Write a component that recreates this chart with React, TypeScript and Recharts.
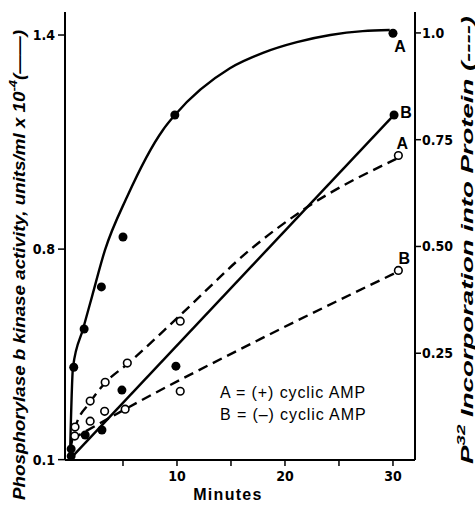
import React from 'react';
import { ComposedChart, Line, Scatter, XAxis, YAxis } from 'recharts';

// ---- axis ticks ----
const minutesTicks = [5, 10, 15, 20, 25, 30];
const minutesTickLabels = ['', '10', '', '20', '', '30'];
const kinaseTicks = [0.21, 0.8, 1.4];
const kinaseTickLabels = ['0.1', '0.8', '1.4'];
const p32Ticks = [0.25, 0.5, 0.75, 1.0];
const p32TickLabels = ['0.25', '0.50', '0.75', '1.0'];

// ---- measured points: kinase activity (filled circles, left axis) ----
const kinaseA_min = [0.2, 0.44, 1.4, 3.0, 5.0, 9.8, 30.0];
const kinaseA_val = [0.24, 0.469, 0.576, 0.694, 0.834, 1.176, 1.405];
const kinaseB_min = [0.2, 1.5, 3.05, 4.9, 9.9, 30.1];
const kinaseB_val = [0.22, 0.279, 0.293, 0.405, 0.472, 1.176];

// ---- measured points: P32 incorporation (open circles, right axis) ----
const p32A_min = [0.56, 1.96, 3.35, 5.4, 10.3, 30.5];
const p32A_val = [0.077, 0.138, 0.182, 0.227, 0.325, 0.713];
const p32B_min = [0.53, 1.96, 3.3, 5.2, 10.3, 30.5];
const p32B_val = [0.056, 0.091, 0.114, 0.119, 0.161, 0.444];

// ---- drawn curves ----
const curveKA_min = [0.09, 0.37, 1.3, 2.13, 3.33, 5.37, 8.7, 9.81, 14.9, 17.96, 21.1, 24.2, 27.2, 29.7];
const curveKA_val = [0.214, 0.469, 0.576, 0.667, 0.797, 0.946, 1.134, 1.176, 1.307, 1.35, 1.38, 1.4, 1.411, 1.414];
const curveKB_min = [0.2, 30.1];
const curveKB_val = [0.215, 1.176];
const curvePA_min = [0.2, 0.56, 1.94, 3.4, 5.37, 10.3, 16.8, 22.0, 30.3];
const curvePA_val = [0.035, 0.075, 0.135, 0.182, 0.224, 0.339, 0.493, 0.591, 0.705];
const curvePB_min = [0.28, 5.2, 17.7, 30.3];
const curvePB_val = [0.049, 0.119, 0.283, 0.439];

const legendLines = ['A = (+) cyclic AMP', 'B = (\u2013) cyclic AMP'];

const pts = (xs: number[], ys: number[]) => xs.map((x, i) => ({ x, y: ys[i] }));

const X_DOMAIN: [number, number] = [-0.37, 32.04];
const LEFT_DOMAIN: [number, number] = [0.209, 1.4645];
const RIGHT_DOMAIN: [number, number] = [0, 1.049];

const tickFont = { fill: '#000', fontSize: 14, fontWeight: 'bold', fontFamily: 'DejaVu Sans Condensed' };
const letterFont = { fontSize: 16, fontWeight: 'bold', fontFamily: 'Liberation Sans, Arial' };

const makeShape = (filled: boolean, letter: string, lastX: number, dx: number, dy: number) => (props: any) => {
  const { cx, cy, payload } = props;
  return (
    <g>
      <circle
        cx={cx}
        cy={cy}
        r={filled ? 4.5 : 3.8}
        fill={filled ? '#000' : '#fff'}
        stroke="#000"
        strokeWidth={filled ? 0 : 1.6}
      />
      {payload && payload.x === lastX ? (
        <text x={cx + dx} y={cy + dy} textAnchor="middle" dominantBaseline="central" {...letterFont}>
          {letter}
        </text>
      ) : null}
    </g>
  );
};

const fmt = (ticks: number[], labels: string[]) => (v: number) => {
  const i = ticks.findIndex((t) => Math.abs(t - v) < 1e-6);
  return i >= 0 ? labels[i] : '';
};

export default function App() {
  return (
    <div style={{ position: 'absolute', left: 0, top: 0, background: '#fff' }}>
      <ComposedChart width={475} height={505} margin={{ top: 12, right: 0, bottom: 0, left: 0 }}>
        <XAxis
          xAxisId="bottom"
          dataKey="x"
          type="number"
          domain={X_DOMAIN}
          allowDataOverflow
          ticks={minutesTicks}
          tickFormatter={fmt(minutesTicks, minutesTickLabels)}
          height={45}
          tickSize={6}
          tickMargin={5}
          tick={tickFont}
          tickLine={{ stroke: '#000', strokeWidth: 1.5 }}
          axisLine={{ stroke: '#000', strokeWidth: 2 }}
        />
        <XAxis
          xAxisId="top"
          orientation="top"
          dataKey="x"
          type="number"
          domain={X_DOMAIN}
          allowDataOverflow
          height={0}
          tick={false}
          tickLine={false}
          axisLine={{ stroke: '#000', strokeWidth: 2 }}
        />
        <YAxis
          yAxisId="left"
          dataKey="y"
          type="number"
          domain={LEFT_DOMAIN}
          allowDataOverflow
          ticks={kinaseTicks}
          tickFormatter={fmt(kinaseTicks, kinaseTickLabels)}
          width={65}
          tickSize={7}
          tickMargin={3}
          tick={tickFont}
          tickLine={{ stroke: '#000', strokeWidth: 1.5 }}
          axisLine={{ stroke: '#000', strokeWidth: 2 }}
        />
        <YAxis
          yAxisId="right"
          orientation="right"
          dataKey="y"
          type="number"
          domain={RIGHT_DOMAIN}
          allowDataOverflow
          ticks={p32Ticks}
          tickFormatter={fmt(p32Ticks, p32TickLabels)}
          width={60}
          tickSize={6}
          tickMargin={1}
          tick={tickFont}
          tickLine={{ stroke: '#000', strokeWidth: 1.5 }}
          axisLine={{ stroke: '#000', strokeWidth: 2 }}
        />

        <Line xAxisId="bottom" yAxisId="left" data={pts(curveKA_min, curveKA_val)} dataKey="y" type="monotone"
          stroke="#000" strokeWidth={2.4} dot={false} activeDot={false} isAnimationActive={false} />
        <Line xAxisId="bottom" yAxisId="left" data={pts(curveKB_min, curveKB_val)} dataKey="y" type="linear"
          stroke="#000" strokeWidth={2.4} dot={false} activeDot={false} isAnimationActive={false} />
        <Line xAxisId="bottom" yAxisId="right" data={pts(curvePA_min, curvePA_val)} dataKey="y" type="monotone"
          stroke="#000" strokeWidth={2.4} strokeDasharray="10 6" dot={false} activeDot={false} isAnimationActive={false} />
        <Line xAxisId="bottom" yAxisId="right" data={pts(curvePB_min, curvePB_val)} dataKey="y" type="monotone"
          stroke="#000" strokeWidth={2.4} strokeDasharray="10 6" dot={false} activeDot={false} isAnimationActive={false} />

        <Scatter xAxisId="bottom" yAxisId="left" data={pts(kinaseA_min, kinaseA_val)} dataKey="y"
          shape={makeShape(true, 'A', kinaseA_min[kinaseA_min.length - 1], 7, 13)} isAnimationActive={false} />
        <Scatter xAxisId="bottom" yAxisId="left" data={pts(kinaseB_min, kinaseB_val)} dataKey="y"
          shape={makeShape(true, 'B', kinaseB_min[kinaseB_min.length - 1], 12, -2)} isAnimationActive={false} />
        <Scatter xAxisId="bottom" yAxisId="right" data={pts(p32A_min, p32A_val)} dataKey="y"
          shape={makeShape(false, 'A', p32A_min[p32A_min.length - 1], 4, -12)} isAnimationActive={false} />
        <Scatter xAxisId="bottom" yAxisId="right" data={pts(p32B_min, p32B_val)} dataKey="y"
          shape={makeShape(false, 'B', p32B_min[p32B_min.length - 1], 6, -12)} isAnimationActive={false} />

        <text x={220} y={398} fontSize={16} letterSpacing={0.9} fontFamily="Liberation Sans, Arial" fill="#000">
          {legendLines[0]}
        </text>
        <text x={220} y={420} fontSize={16} letterSpacing={0.9} fontFamily="Liberation Sans, Arial" fill="#000">
          {legendLines[1]}
        </text>

        <text x={228} y={500} textAnchor="middle" fontSize={16} fontWeight="bold" letterSpacing={1.3}
          fontFamily="Liberation Sans, Arial" fill="#000">
          Minutes
        </text>

        <text
          x={19}
          y={265}
          transform="rotate(-90 19 265)"
          textAnchor="middle"
          dominantBaseline="central"
          fontSize={16}
          fontWeight="bold"
          fontStyle="italic"
          fontFamily="Liberation Sans, Arial"
          textLength={470}
          lengthAdjust="spacingAndGlyphs"
          fill="#000"
        >
          Phosphorylase b kinase activity, units/ml x 10
          <tspan dy={-6} fontSize={11}>-4</tspan>
          <tspan dy={6}>(——)</tspan>
        </text>

        <text
          x={467}
          y={240}
          transform="rotate(-90 467 240)"
          textAnchor="middle"
          dominantBaseline="central"
          fontSize={16}
          fontWeight="bold"
          fontStyle="italic"
          fontFamily="Liberation Sans, Arial"
          textLength={448}
          lengthAdjust="spacingAndGlyphs"
          fill="#000"
        >
          P
          <tspan dy={-6} fontSize={11}>32</tspan>
          <tspan dy={6}> Incorporation into Protein (----)</tspan>
        </text>
      </ComposedChart>
    </div>
  );
}
